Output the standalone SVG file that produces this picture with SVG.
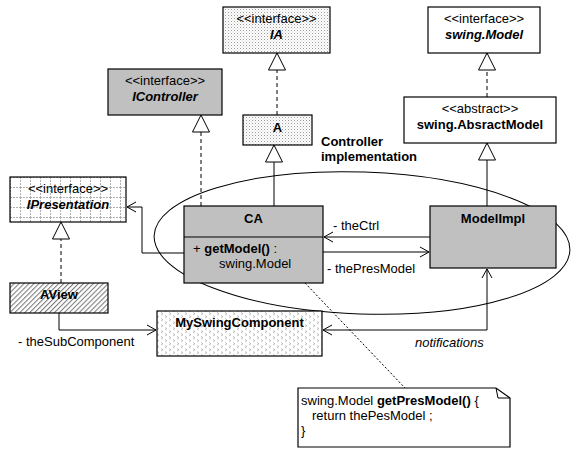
<svg xmlns="http://www.w3.org/2000/svg" width="573" height="452" viewBox="0 0 573 452">
  <style>
    text { font-family: "Liberation Sans", Arial, sans-serif; font-size: 13px; fill: #000; }
    .c { text-anchor: middle; }
    .b { font-weight: bold; }
    .bi { font-weight: bold; font-style: italic; }
    .it { font-style: italic; }
    .box { stroke: #000; stroke-width: 1.2; }
    .gray { fill: #c0c0c0; }
    .white { fill: #fff; }
    .line { fill: none; stroke: #000; stroke-width: 1; }
    .dash { stroke-dasharray: 4 3; }
    .fine { stroke-dasharray: 2 2; }
  </style>
  <defs>
    <!-- stipple fill -->
    <pattern id="dots" width="3" height="3" patternUnits="userSpaceOnUse">
      <rect width="3" height="3" fill="#fff"/>
      <rect x="0" y="0" width="1" height="1" fill="#9a9a9a"/>
      <rect x="1.5" y="1.5" width="1" height="1" fill="#c8c8c8"/>
    </pattern>
    <!-- dashed grid fill -->
    <pattern id="grid" width="10" height="10" patternUnits="userSpaceOnUse" x="10" y="177">
      <rect width="10" height="10" fill="#fff"/>
      <path d="M0 0.5H10M0.5 0V10" stroke="#b0b0b0" stroke-width="1" stroke-dasharray="2 1"/>
    </pattern>
    <!-- diagonal hatching -->
    <pattern id="hatch" width="3.5" height="3.5" patternUnits="userSpaceOnUse" patternTransform="rotate(45)">
      <rect width="3.5" height="3.5" fill="#fff"/>
      <line x1="0.5" y1="0" x2="0.5" y2="3.5" stroke="#7a7a7a" stroke-width="1.1"/>
    </pattern>
    <!-- chevron fill -->
    <pattern id="chev" width="8" height="6" patternUnits="userSpaceOnUse">
      <rect width="8" height="6" fill="#fff"/>
      <path d="M1 0.5l2 1.2-2 1.2M5 3.5l2 1.2-2 1.2" fill="none" stroke="#a8a8a8" stroke-width="0.7"/>
    </pattern>
    <marker id="open" markerWidth="12" markerHeight="12" refX="10" refY="6" orient="auto-start-reverse" markerUnits="userSpaceOnUse">
      <path d="M1 1 L10 6 L1 11" fill="none" stroke="#000" stroke-width="1" stroke-dasharray="none"/>
    </marker>
    <marker id="tri" markerWidth="19" markerHeight="19" refX="17.5" refY="9" orient="auto" markerUnits="userSpaceOnUse">
      <path d="M0.5 0.5 L17.5 9 L0.5 17.5 Z" fill="#fff" stroke="#000" stroke-width="1" stroke-dasharray="none"/>
    </marker>
  </defs>

  <rect width="573" height="452" fill="#fff"/>

  <!-- controller grouping ellipse -->
  <ellipse cx="362" cy="243" rx="208" ry="71" transform="rotate(2 362 243)" fill="none" stroke="#000" stroke-width="1"/>

  <g id="connectors">
    <!-- realizations / generalizations -->
    <path class="line dash" d="M277 115V53" marker-end="url(#tri)"/>
    <path class="line" d="M274 206V145" marker-end="url(#tri)"/>
    <path class="line dash" d="M201 206V115" marker-end="url(#tri)"/>
    <path class="line dash" d="M487 97V53" marker-end="url(#tri)"/>
    <path class="line" d="M487 206V143" marker-end="url(#tri)"/>
    <path class="line dash" d="M61 283V222" marker-end="url(#tri)"/>
    <!-- associations -->
    <path class="line" d="M184 253H142V207H127" marker-end="url(#open)"/>
    <path class="line" d="M430 237H324" marker-end="url(#open)"/>
    <path class="line" d="M323 252H429" marker-end="url(#open)"/>
    <path class="line" d="M59 313V330H156" marker-end="url(#open)"/>
    <path class="line" d="M323 330H487V269" marker-start="url(#open)" marker-end="url(#open)"/>
    <!-- note anchor -->
    <path class="line fine" d="M305 283L405 388"/>
  </g>

  <g id="IA">
    <rect class="box" x="223" y="7" width="107" height="46" fill="url(#dots)"/>
    <text class="c" x="276.5" y="23">&lt;&lt;interface&gt;&gt;</text>
    <text class="c bi" x="276.5" y="39">IA</text>
  </g>

  <g id="IController">
    <rect class="box gray" x="108" y="69" width="114" height="46"/>
    <text class="c" x="165" y="85">&lt;&lt;interface&gt;&gt;</text>
    <text class="c bi" x="165" y="101">IController</text>
  </g>

  <g id="swingModel">
    <rect class="box white" x="428" y="7" width="112" height="46"/>
    <text class="c" x="484" y="23">&lt;&lt;interface&gt;&gt;</text>
    <text class="c bi" x="484" y="39">swing.Model</text>
  </g>

  <g id="AbsractModel">
    <rect class="box white" x="404" y="97" width="152" height="46"/>
    <text class="c" x="480" y="113">&lt;&lt;abstract&gt;&gt;</text>
    <text class="c b" x="480" y="129">swing.AbsractModel</text>
  </g>

  <g id="A">
    <rect class="box" x="243" y="115" width="69" height="30" fill="url(#dots)"/>
    <text class="c b" x="277.5" y="132">A</text>
  </g>

  <g id="CA">
    <rect class="box gray" x="184" y="206" width="139" height="77"/>
    <line x1="184" y1="237" x2="323" y2="237" stroke="#000" stroke-width="1.2"/>
    <text class="c b" x="253.5" y="223">CA</text>
    <text x="193" y="253">+ <tspan class="b">getModel()</tspan> :</text>
    <text x="219" y="268">swing.Model</text>
  </g>

  <g id="ModelImpl">
    <rect class="box gray" x="430" y="206" width="126" height="62"/>
    <text class="c b" x="493" y="223">ModelImpl</text>
  </g>

  <g id="IPresentation">
    <rect class="box" x="10" y="177" width="116" height="45" fill="url(#grid)"/>
    <text class="c" x="68" y="193">&lt;&lt;interface&gt;&gt;</text>
    <text class="c bi" x="68" y="209">IPresentation</text>
  </g>

  <g id="AView">
    <rect class="box" x="10" y="283" width="98" height="30" fill="url(#hatch)"/>
    <text class="c b" x="59" y="299">AView</text>
  </g>

  <g id="MySwingComponent">
    <rect class="box" x="157" y="311" width="165" height="45" fill="url(#chev)"/>
    <text class="c b" x="239.5" y="327">MySwingComponent</text>
  </g>

  <g id="note">
    <path d="M298 388H496L510 398V447H298Z" fill="#fff" stroke="#000" stroke-width="1.2"/>
    <path d="M496 388L498 398L510 398" fill="none" stroke="#000" stroke-width="1"/>
    <text x="301" y="405">swing.Model <tspan class="b">getPresModel()</tspan> {</text>
    <text x="312" y="420">return thePesModel ;</text>
    <text x="301" y="435">}</text>
  </g>

  <g id="labels">
    <text class="b" x="321" y="146">Controller</text>
    <text class="b" x="321" y="161">implementation</text>
    <text x="333" y="230">- theCtrl</text>
    <text x="327" y="273">- thePresModel</text>
    <text x="18" y="346">- theSubComponent</text>
    <text class="it" x="415" y="347">notifications</text>
  </g>
</svg>
